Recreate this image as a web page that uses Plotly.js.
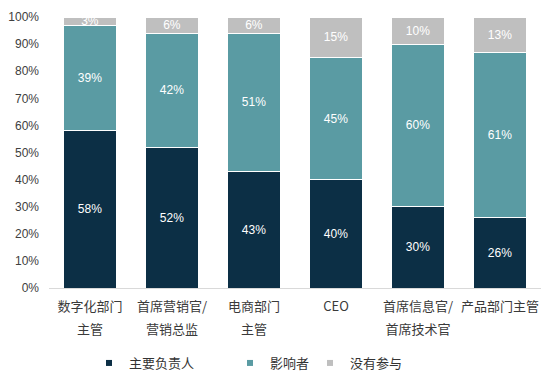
<!DOCTYPE html>
<html>
<head>
<meta charset="utf-8">
<script src="https://cdn.plot.ly/plotly-3.0.1.min.js"></script>
<style>html,body{margin:0;padding:0;background:#fff;}#chart{width:550px;height:383px;}</style>
</head>
<body>
<div id="chart"></div>
<script>
var categories = ['数字化部门<br>主管', '首席营销官/<br>营销总监', '电商部门<br>主管', 'CEO', '首席信息官/<br>首席技术官', '产品部门主管'];
var seriesNames = ['主要负责人', '影响者', '没有参与'];
var mainOwner = [0.58, 0.52, 0.43, 0.40, 0.30, 0.26];
var influencer = [0.39, 0.42, 0.51, 0.45, 0.60, 0.61];
var notInvolved = [0.03, 0.06, 0.06, 0.15, 0.10, 0.13];
var yTicks = [0, 0.1, 0.2, 0.3, 0.4, 0.5, 0.6, 0.7, 0.8, 0.9, 1.0];

var colors = ['#0c2f45', '#5a9ba3', '#bfbfbf'];
var series = [mainOwner, influencer, notInvolved];
var cjk = '"Noto Sans CJK SC", "Liberation Sans", sans-serif';

var traces = [];
series.forEach(function (vals, i) {
  traces.push({
    type: 'bar',
    x: categories,
    y: vals,
    name: seriesNames[i],
    showlegend: false,
    legendgroup: 'g' + i,
    marker: {color: colors[i], line: {color: '#ffffff', width: 1}},
    texttemplate: '%{y:.0%}',
    textposition: 'inside',
    insidetextanchor: 'middle',
    constraintext: 'none',
    textfont: {color: '#ffffff', size: 12, family: '"Liberation Sans", Arial, sans-serif'},
    hoverinfo: 'skip'
  });
});
var legendIds = ['legend', 'legend2', 'legend3'];
seriesNames.forEach(function (n, i) {
  traces.push({
    type: 'scatter',
    mode: 'markers',
    x: [null],
    y: [null],
    name: n,
    legend: legendIds[i],
    legendgroup: 'g' + i,
    showlegend: true,
    marker: {symbol: 'square', size: 6, color: colors[i]}
  });
});

var tickText = categories.map(function (c) {
  return '<span style="font-size:13px">' + c + '</span>';
});

function legendAt(xPx) {
  return {
    orientation: 'h', xref: 'container', yref: 'container',
    x: xPx / 550, y: 1 - 363 / 383, xanchor: 'left', yanchor: 'middle',
    font: {family: cjk, size: 13, color: '#333333'},
    bgcolor: 'rgba(0,0,0,0)', itemwidth: 30
  };
}

var layout = {
  width: 550, height: 383,
  margin: {l: 49, r: 9, t: 17, b: 95},
  paper_bgcolor: '#ffffff', plot_bgcolor: '#ffffff',
  barmode: 'stack',
  bargap: 0.35,
  showlegend: true,
  font: {family: cjk, color: '#404040'},
  xaxis: {
    type: 'category',
    tickmode: 'array', tickvals: categories, ticktext: tickText,
    tickfont: {family: cjk, size: 18, color: '#3a3a3a'},
    showline: true, linecolor: '#d9d9d9', linewidth: 1,
    ticks: '', showgrid: false, zeroline: false, fixedrange: true
  },
  yaxis: {
    range: [0, 1], tickmode: 'array', tickvals: yTicks, tickformat: '.0%',
    tickfont: {family: '"Liberation Sans", Arial, sans-serif', size: 12, color: '#404040'},
    showgrid: false, zeroline: false, showline: false, ticks: '',
    ticklabelstandoff: 9, fixedrange: true
  },
  legend: legendAt(89),
  legend2: legendAt(230),
  legend3: legendAt(310)
};

Plotly.newPlot('chart', traces, layout, {displayModeBar: false, staticPlot: true});
</script>
</body>
</html>
